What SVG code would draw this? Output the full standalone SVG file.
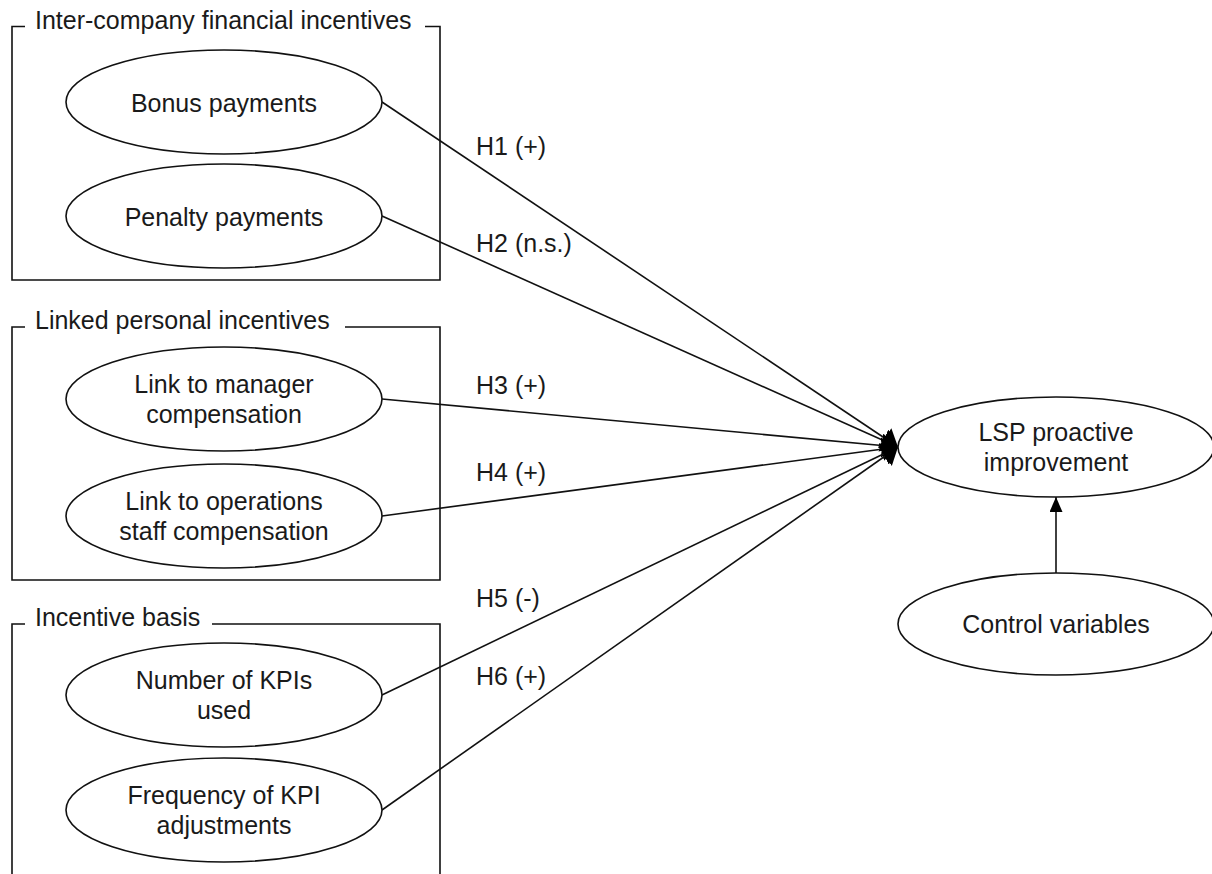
<svg xmlns="http://www.w3.org/2000/svg" width="1212" height="874" viewBox="0 0 1212 874">
<defs>
<style>
.t{font-family:"Liberation Sans",Arial,sans-serif;font-size:25px;fill:#1a1a1a}
.c{text-anchor:middle}
.e{fill:#fff;stroke:#111;stroke-width:1.6}
.box{fill:none;stroke:#111;stroke-width:1.6}
.ln{fill:none;stroke:#111;stroke-width:1.6}
</style>
<marker id="big" markerUnits="userSpaceOnUse" markerWidth="18" markerHeight="26" refX="16" refY="12" orient="auto">
<path d="M0,0 L16,12 L0,24 z" fill="#000"/>
</marker>
<marker id="small" markerUnits="userSpaceOnUse" markerWidth="16" markerHeight="14" refX="15" refY="6.5" orient="auto">
<path d="M0,0 L15,6.5 L0,13 z" fill="#000"/>
</marker>
</defs>
<rect width="1212" height="874" fill="#fff"/>

<g id="group-financial">
<path class="box" d="M25,26.5 H12 V280 H440 V26.5 H425"/>
<text class="t" x="35" y="29">Inter-company financial incentives</text>
</g>
<g id="group-personal">
<path class="box" d="M25,327 H12 V580 H440 V327 H345"/>
<text class="t" x="35" y="329">Linked personal incentives</text>
</g>
<g id="group-basis">
<path class="box" d="M25,624 H12 V880 M440,880 V624 H212"/>
<text class="t" x="35" y="626">Incentive basis</text>
</g>

<g id="connectors">
<line class="ln" x1="382" y1="102" x2="898" y2="447" marker-end="url(#big)"/>
<line class="ln" x1="382" y1="216" x2="898" y2="447" marker-end="url(#big)"/>
<line class="ln" x1="382" y1="399" x2="898" y2="447" marker-end="url(#big)"/>
<line class="ln" x1="382" y1="516" x2="898" y2="447" marker-end="url(#big)"/>
<line class="ln" x1="382" y1="695" x2="898" y2="447" marker-end="url(#big)"/>
<line class="ln" x1="382" y1="810" x2="898" y2="447" marker-end="url(#big)"/>
<line class="ln" x1="1056" y1="573" x2="1056" y2="497" marker-end="url(#small)"/>
<text class="t" x="476" y="155">H1 (+)</text>
<text class="t" x="476" y="252">H2 (n.s.)</text>
<text class="t" x="476" y="394">H3 (+)</text>
<text class="t" x="476" y="481">H4 (+)</text>
<text class="t" x="476" y="607">H5 (-)</text>
<text class="t" x="476" y="685">H6 (+)</text>
</g>

<g id="bonus">
<ellipse class="e" cx="224" cy="102" rx="158" ry="52"/>
<text class="t c" x="224" y="112">Bonus payments</text>
</g>
<g id="penalty">
<ellipse class="e" cx="224" cy="216" rx="158" ry="52"/>
<text class="t c" x="224" y="226">Penalty payments</text>
</g>
<g id="manager">
<ellipse class="e" cx="224" cy="399" rx="158" ry="52"/>
<text class="t c" x="224" y="393">Link to manager</text>
<text class="t c" x="224" y="423">compensation</text>
</g>
<g id="operations">
<ellipse class="e" cx="224" cy="516" rx="158" ry="52"/>
<text class="t c" x="224" y="510">Link to operations</text>
<text class="t c" x="224" y="540">staff compensation</text>
</g>
<g id="kpis">
<ellipse class="e" cx="224" cy="695" rx="158" ry="52"/>
<text class="t c" x="224" y="689">Number of KPIs</text>
<text class="t c" x="224" y="719">used</text>
</g>
<g id="frequency">
<ellipse class="e" cx="224" cy="810" rx="158" ry="52"/>
<text class="t c" x="224" y="804">Frequency of KPI</text>
<text class="t c" x="224" y="834">adjustments</text>
</g>
<g id="lsp">
<ellipse class="e" cx="1056" cy="447" rx="158" ry="50"/>
<text class="t c" x="1056" y="441">LSP proactive</text>
<text class="t c" x="1056" y="471">improvement</text>
</g>
<g id="control">
<ellipse class="e" cx="1056" cy="624" rx="158" ry="51"/>
<text class="t c" x="1056" y="633">Control variables</text>
</g>
</svg>
